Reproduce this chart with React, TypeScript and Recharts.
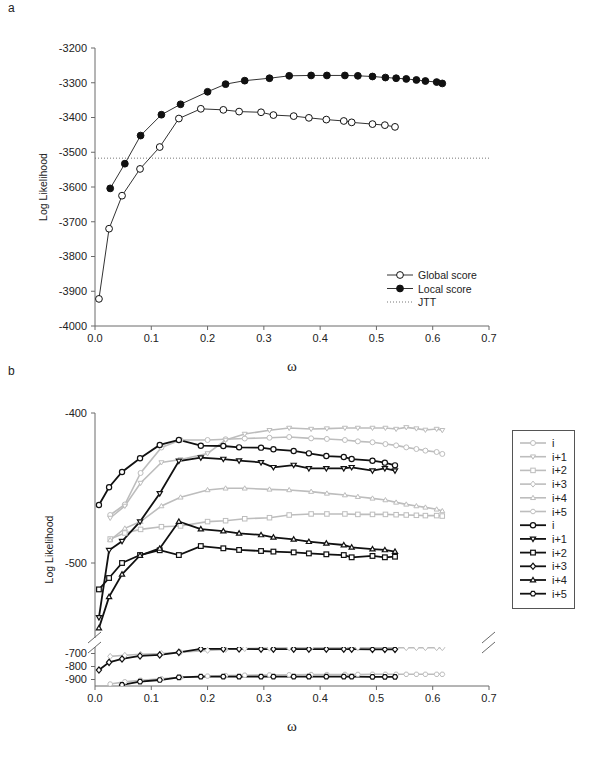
import React from 'react'
import { LineChart, Line, XAxis, YAxis, ReferenceLine, Label } from 'recharts'

// omega values shared by the series (global-score runs and local-score runs)
const omegaGlobal = [0.007, 0.025, 0.048, 0.08, 0.115, 0.149, 0.188, 0.228, 0.256, 0.295, 0.317, 0.353, 0.38, 0.411, 0.442, 0.456, 0.493, 0.515, 0.533]
const omegaLocal = [0.027, 0.053, 0.081, 0.118, 0.152, 0.2, 0.232, 0.266, 0.31, 0.345, 0.384, 0.412, 0.444, 0.467, 0.493, 0.516, 0.535, 0.553, 0.571, 0.587, 0.607, 0.617]

// panel a
const globalScore = [-3922, -3720, -3625, -3548, -3485, -3403, -3375, -3378, -3383, -3385, -3393, -3396, -3401, -3406, -3410, -3414, -3419, -3422, -3427]
const localScore = [-3604, -3533, -3452, -3392, -3362, -3326, -3304, -3294, -3287, -3280, -3279, -3279, -3279, -3280, -3282, -3285, -3287, -3289, -3292, -3295, -3298, -3302]
const jttScore = -3517

// panel b, grey = local score runs, black = global score runs
const lightI = [-468, -461, -440, -423, -418, -418, -417.5, -417, -416.5, -416, -416.9, -417.3, -418, -418.9, -419.5, -420.7, -421.6, -422.9, -424, -425.1, -426, -427.3]
const lightI1 = [-470, -462, -446.7, -433, -431, -427, -418, -414, -411.5, -410, -410.7, -410.4, -410, -410, -410, -410, -410.7, -409.6, -410.4, -411.3, -410.7, -411.5]
const lightI2 = [-484, -480, -477.6, -475.8, -475.3, -472.4, -471.8, -470.5, -469.8, -468, -467.3, -467.3, -467.3, -467.6, -467.6, -467.6, -467.8, -468, -468.2, -468.4, -468.4, -468.7]
const lightI3 = [-722, -714, -706, -700, -690, -676, -668, -662, -659, -657, -656, -656, -655, -655, -655, -655, -655, -655, -655, -655, -655, -655]
const lightI4 = [-484.7, -476.9, -472.4, -462, -456.2, -451.3, -450.2, -450.2, -450.9, -451.3, -452.4, -453.6, -454.7, -455.8, -456.9, -458, -459.6, -460.9, -462, -462.9, -464.2, -465.3]
const lightI5 = [-935, -918, -906, -895, -884, -874, -870, -867, -865, -864, -862, -862, -861, -861, -860, -860, -860, -860, -860, -860, -860, -860]

const darkI = [-461.3, -449.5, -439.3, -430.2, -421.3, -418, -421.8, -422, -422.9, -423.1, -424.2, -425.3, -426.9, -428.7, -429.3, -430.7, -431.8, -433.1, -434.9]
const darkI1 = [-536.3, -491.5, -485.5, -472.4, -453.6, -432, -429.8, -430.7, -431.8, -432.9, -436.2, -434.7, -436.9, -436.9, -436.9, -436.2, -438.4, -436.9, -438.4]
const darkI2 = [-517.6, -510, -500, -494.7, -491.5, -494.7, -488.7, -490.2, -491.3, -492, -492.4, -492.9, -493.6, -494.2, -494.7, -496.2, -495.3, -496.2, -495.8]
const darkI3 = [-827, -768, -742, -719, -711, -691, -665, -665, -665, -666, -666, -666, -666, -666, -666, -666, -668, -668, -668]
const darkI4 = [-543.4, -522.6, -507.6, -495, -490.3, -472.4, -477.4, -478.7, -480.2, -481.3, -482.9, -484.2, -485.8, -486.9, -488, -489.6, -490.7, -491.3, -492.4]
const darkI5 = [null, null, -942, -917, -904, -883, -878, -878, -878, -878, -878, -878, -878, -878, -878, -878, -880, -880, -880]

const seriesNames = ['i', 'i+1', 'i+2', 'i+3', 'i+4', 'i+5']
const lightSeries = [lightI, lightI1, lightI2, lightI3, lightI4, lightI5]
const darkSeries = [darkI, darkI1, darkI2, darkI3, darkI4, darkI5]

const xTicks = [0, 0.1, 0.2, 0.3, 0.4, 0.5, 0.6, 0.7]
const yTicksA = [-4000, -3900, -3800, -3700, -3600, -3500, -3400, -3300, -3200]
const yTicksUpper = [-500, -400]
const yTicksLower = [-900, -800, -700]

type Shape = 'circle' | 'triDown' | 'square' | 'diamond' | 'triUp' | 'hexagon'
const shapes: Shape[] = ['circle', 'triDown', 'square', 'diamond', 'triUp', 'hexagon']
const lowerIdx = [3, 5]
const upperIdx = [0, 1, 2, 4]

const AXIS = '#6a6a6a'
const TEXT = '#222'
const DARK = '#111'
const LIGHT = '#bdbdbd'
const SANS = '"Liberation Sans", Arial, sans-serif'
const SERIF = '"Liberation Serif", "Times New Roman", serif'

const toPts = (xs: number[], ys: (number | null)[]) =>
  xs.map((x, i) => ({ x, y: ys[i] })).filter(p => p.y != null)

function Marker({ shape, cx, cy, r, stroke, fill, sw }: {
  shape: Shape; cx: number; cy: number; r: number; stroke: string; fill: string; sw: number
}) {
  const st = { stroke, fill, strokeWidth: sw }
  switch (shape) {
    case 'square':
      return <rect x={cx - r * 0.9} y={cy - r * 0.9} width={r * 1.8} height={r * 1.8} {...st} />
    case 'triDown':
      return <polygon points={`${cx - r},${cy - r * 0.7} ${cx + r},${cy - r * 0.7} ${cx},${cy + r}`} {...st} />
    case 'triUp':
      return <polygon points={`${cx - r},${cy + r * 0.7} ${cx + r},${cy + r * 0.7} ${cx},${cy - r}`} {...st} />
    case 'diamond':
      return <polygon points={`${cx},${cy - r * 1.2} ${cx + r},${cy} ${cx},${cy + r * 1.2} ${cx - r},${cy}`} {...st} />
    case 'hexagon': {
      const pts = [0, 1, 2, 3, 4, 5].map(k => {
        const a = (Math.PI / 3) * k
        return `${cx + r * Math.cos(a)},${cy + r * Math.sin(a)}`
      }).join(' ')
      return <polygon points={pts} {...st} />
    }
    default:
      return <circle cx={cx} cy={cy} r={r} {...st} />
  }
}

const dotFn = (shape: Shape, r: number, stroke: string, fill: string, sw: number) =>
  (p: any) => <Marker key={`d${p.index}`} shape={shape} cx={p.cx} cy={p.cy} r={r} stroke={stroke} fill={fill} sw={sw} />

const fmt = (v: number) => v.toFixed(1)
const tickStyle = { fill: TEXT, fontSize: 11, fontFamily: SANS }

function PanelA() {
  return (
    <LineChart width={600} height={390} margin={{ top: 48, right: 111, bottom: 14, left: 35 }}>
      <XAxis dataKey="x" type="number" domain={[0, 0.7]} ticks={xTicks} tickFormatter={fmt} interval={0}
        height={50} tickSize={4} tickMargin={4} axisLine={{ stroke: AXIS }} tickLine={{ stroke: AXIS }} tick={tickStyle}>
        <Label value="ω" position="insideBottom" offset={5} style={{ fontFamily: SERIF, fontSize: 15, fill: TEXT }} />
      </XAxis>
      <XAxis xAxisId="top" orientation="top" type="number" domain={[0, 0.7]} height={0}
        tick={false} tickLine={false} axisLine={{ stroke: AXIS }} />
      <YAxis type="number" domain={[-4000, -3200]} ticks={yTicksA} interval={0} width={60} tickSize={4} tickMargin={4}
        axisLine={{ stroke: AXIS }} tickLine={{ stroke: AXIS }} tick={tickStyle}>
        <Label value="Log Likelihood" angle={-90} position="center" dx={-22}
          style={{ fontFamily: SANS, fontSize: 10.5, fill: TEXT }} />
      </YAxis>
      <YAxis yAxisId="right" orientation="right" type="number" domain={[-4000, -3200]} width={0}
        tick={false} tickLine={false} axisLine={{ stroke: AXIS }} />
      <ReferenceLine y={jttScore} stroke="#777" strokeDasharray="1 2" />
      <Line data={toPts(omegaGlobal, globalScore)} dataKey="y" stroke="#333" strokeWidth={1}
        dot={dotFn('circle', 3.4, DARK, '#fff', 1)} isAnimationActive={false} />
      <Line data={toPts(omegaLocal, localScore)} dataKey="y" stroke="#333" strokeWidth={1}
        dot={dotFn('circle', 3.4, DARK, DARK, 1)} isAnimationActive={false} />
    </LineChart>
  )
}

function seriesLines(idx: number[]) {
  const light = idx.map(k => (
    <Line key={`l${k}`} data={toPts(omegaLocal, lightSeries[k])} dataKey="y" stroke={LIGHT} strokeWidth={1.6}
      dot={dotFn(shapes[k], 2.5, LIGHT, '#fff', 1)} isAnimationActive={false} />
  ))
  const dark = idx.map(k => (
    <Line key={`d${k}`} data={toPts(omegaGlobal, darkSeries[k])} dataKey="y" stroke={DARK} strokeWidth={1.8}
      dot={dotFn(shapes[k], 2.6, DARK, '#fff', 1.2)} isAnimationActive={false} />
  ))
  return [...light, ...dark]
}

function PanelBUpper() {
  return (
    <LineChart width={600} height={258} margin={{ top: 33, right: 111, bottom: 0, left: 35 }}>
      <XAxis dataKey="x" type="number" domain={[0, 0.7]} hide />
      <XAxis xAxisId="top" orientation="top" type="number" domain={[0, 0.7]} height={0}
        tick={false} tickLine={false} axisLine={{ stroke: AXIS }} />
      <YAxis type="number" domain={[-550, -400]} ticks={yTicksUpper} interval={0} width={60} tickSize={4} tickMargin={4}
        axisLine={{ stroke: AXIS }} tickLine={{ stroke: AXIS }} tick={tickStyle} allowDataOverflow>
        <Label value="Log Likelihood" angle={-90} position="center" dx={-16} dy={24}
          style={{ fontFamily: SANS, fontSize: 10.5, fill: TEXT }} />
      </YAxis>
      <YAxis yAxisId="right" orientation="right" type="number" domain={[-550, -400]} width={0}
        tick={false} tickLine={false} axisLine={{ stroke: AXIS }} />
      {seriesLines(upperIdx)}
    </LineChart>
  )
}

function PanelBLower() {
  return (
    <LineChart width={600} height={110} margin={{ top: 7, right: 111, bottom: 10, left: 35 }}>
      <XAxis dataKey="x" type="number" domain={[0, 0.7]} ticks={xTicks} tickFormatter={fmt} interval={0}
        height={54} tickSize={4} tickMargin={4} axisLine={{ stroke: AXIS }} tickLine={{ stroke: AXIS }} tick={tickStyle}>
        <Label value="ω" position="insideBottom" offset={9} style={{ fontFamily: SERIF, fontSize: 15, fill: TEXT }} />
      </XAxis>
      <YAxis type="number" domain={[-950, -650]} ticks={yTicksLower} interval={0} width={60} tickSize={4} tickMargin={4}
        axisLine={{ stroke: AXIS }} tickLine={{ stroke: AXIS }} tick={tickStyle} allowDataOverflow />
      <YAxis yAxisId="right" orientation="right" type="number" domain={[-950, -650]} width={0}
        tick={false} tickLine={false} axisLine={{ stroke: AXIS }} />
      {seriesLines(lowerIdx)}
    </LineChart>
  )
}

function LegendA() {
  const rows = [
    { name: 'Global score', fill: '#fff', dotted: false },
    { name: 'Local score', fill: DARK, dotted: false },
    { name: 'JTT', fill: '', dotted: true },
  ]
  return (
    <svg width={100} height={45} style={{ position: 'absolute', left: 384, top: 265 }}>
      {rows.map((r, i) => {
        const y = 10 + i * 13.5
        return (
          <g key={r.name}>
            {r.dotted
              ? <line x1={3} x2={28} y1={y} y2={y} stroke="#777" strokeDasharray="1 2" />
              : <>
                  <line x1={3} x2={29} y1={y} y2={y} stroke="#333" />
                  <Marker shape="circle" cx={16} cy={y} r={3.4} stroke={DARK} fill={r.fill} sw={1} />
                </>}
            <text x={34} y={y + 4} fontSize={10.5} fontFamily={SANS} fill={TEXT}>{r.name}</text>
          </g>
        )
      })}
    </svg>
  )
}

function LegendB() {
  const rows = [
    ...seriesNames.map((n, k) => ({ n, k, color: LIGHT, w: 1.6, sw: 1, r: 2.5 })),
    ...seriesNames.map((n, k) => ({ n, k, color: DARK, w: 1.8, sw: 1.2, r: 2.6 })),
  ]
  return (
    <svg width={64} height={180} style={{ position: 'absolute', left: 512, top: 430 }}>
      <rect x={0.5} y={0.5} width={62} height={178} fill="#fff" stroke="#555" />
      {rows.map((r, i) => {
        const y = 13 + i * 13.7
        return (
          <g key={i}>
            <line x1={8} x2={34} y1={y} y2={y} stroke={r.color} strokeWidth={r.w} />
            <Marker shape={shapes[r.k]} cx={21} cy={y} r={r.r} stroke={r.color} fill="#fff" sw={r.sw} />
            <text x={40} y={y + 4} fontSize={11} fontFamily={SANS} fill={TEXT}>{r.n}</text>
          </g>
        )
      })}
    </svg>
  )
}

function AxisBreaks() {
  return (
    <svg width={600} height={769} style={{ position: 'absolute', left: 0, top: 0, pointerEvents: 'none' }}>
      {[95, 489].map(x => (
        <g key={x} stroke={AXIS} strokeWidth={1}>
          <line x1={x - 7} y1={643} x2={x + 6} y2={632} />
          <line x1={x - 7} y1={653} x2={x + 6} y2={642} />
        </g>
      ))}
    </svg>
  )
}

export default function App() {
  return (
    <div style={{ position: 'absolute', left: 0, top: 0, width: 600, height: 769, background: '#fff', fontFamily: SANS }}>
      <div style={{ position: 'absolute', left: 8, top: 1, fontSize: 12, color: TEXT }}>a</div>
      <div style={{ position: 'absolute', left: 8, top: 364, fontSize: 12, color: TEXT }}>b</div>
      <div style={{ position: 'absolute', left: 0, top: 0 }}><PanelA /></div>
      <div style={{ position: 'absolute', left: 0, top: 380 }}><PanelBUpper /></div>
      <div style={{ position: 'absolute', left: 0, top: 640 }}><PanelBLower /></div>
      <LegendA />
      <LegendB />
      <AxisBreaks />
    </div>
  )
}
